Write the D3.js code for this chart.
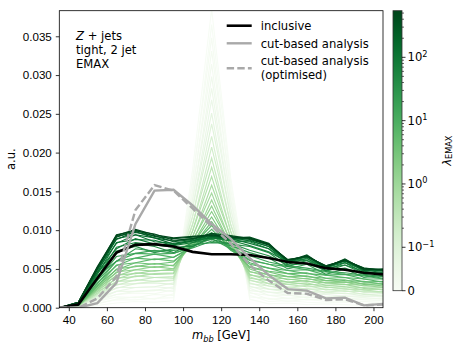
<!DOCTYPE html>
<html>
<head>
<meta charset="utf-8">
<script src="https://cdn.jsdelivr.net/npm/d3@7"></script>
<style>
  body { margin: 0; background: #fff; }
  svg { display: block; font-family: "DejaVu Sans", sans-serif; }
  .axis text { font-size: 11.6px; fill: #000; }
  .axis line { stroke: #000; stroke-width: 0.8; }
  .axis path { display: none; }
</style>
</head>
<body>
<div id="chart"></div>
<script>
// DATA

// bin points along m_bb [GeV]
const mbb = [35, 45, 55, 65, 75, 85, 95, 105, 115, 125, 135, 145, 155, 165, 175, 185, 195, 205];

const inclusive = [0, 0.0004, 0.0038, 0.0071, 0.0081, 0.0082, 0.0079, 0.0072, 0.0069, 0.0069, 0.0068, 0.0064, 0.0059, 0.0057, 0.0051, 0.0049, 0.0045, 0.0043];
const cutBased = [0, 0, 0.0006, 0.0032, 0.0108, 0.0151, 0.0152, 0.0132, 0.0108, 0.0089, 0.0064, 0.0042, 0.0024, 0.0022, 0.0012, 0.0013, 0.0003, 0.0005];
const cutBasedOpt = [0, 0, 0.0012, 0.0040, 0.0126, 0.0158, 0.0151, 0.0128, 0.0105, 0.0083, 0.0055, 0.0035, 0.0019, 0.0018, 0.0010, 0.0011, 0.0003, 0.0004];

// lambda_EMAX of every green curve, light to dark
const lambdas = [0, 0.005, 0.01, 0.015, 0.02, 0.03, 0.04, 0.05, 0.07, 0.09,
  0.12, 0.17, 0.25, 0.35, 0.5, 0.65, 0.8, 1.0,
  1.4, 2, 2.8, 4, 5.5, 7, 9, 12,
  16, 22, 30, 40, 55, 70, 90, 120, 160, 200, 260, 330, 420, 520];

// one row per lambda, same bins as mbb
const greenCurves = [
  [0, 0.0000, 0.0003, 0.0006, 0.0008, 0.0007, 0.0009, 0.0178, 0.0385, 0.0168, 0.0011, 0.0005, 0.0006, 0.0004, 0.0005, 0.0004, 0.0003, 0.0004],
  [0, 0.0001, 0.0006, 0.0010, 0.0010, 0.0012, 0.0013, 0.0161, 0.0365, 0.0162, 0.0016, 0.0008, 0.0009, 0.0007, 0.0006, 0.0008, 0.0005, 0.0006],
  [0, 0.0001, 0.0005, 0.0011, 0.0014, 0.0011, 0.0018, 0.0166, 0.0348, 0.0147, 0.0014, 0.0012, 0.0008, 0.0011, 0.0008, 0.0007, 0.0008, 0.0006],
  [0, 0.0001, 0.0008, 0.0014, 0.0013, 0.0017, 0.0016, 0.0148, 0.0331, 0.0153, 0.0020, 0.0011, 0.0012, 0.0010, 0.0011, 0.0009, 0.0008, 0.0009],
  [0, 0.0001, 0.0008, 0.0017, 0.0019, 0.0018, 0.0023, 0.0152, 0.0314, 0.0137, 0.0019, 0.0016, 0.0012, 0.0014, 0.0011, 0.0012, 0.0010, 0.0009],
  [0, 0.0001, 0.0011, 0.0017, 0.0021, 0.0023, 0.0021, 0.0137, 0.0298, 0.0139, 0.0025, 0.0016, 0.0016, 0.0013, 0.0014, 0.0012, 0.0011, 0.0012],
  [0, 0.0002, 0.0010, 0.0021, 0.0021, 0.0022, 0.0027, 0.0140, 0.0283, 0.0127, 0.0022, 0.0020, 0.0016, 0.0017, 0.0014, 0.0015, 0.0013, 0.0011],
  [0, 0.0001, 0.0013, 0.0021, 0.0026, 0.0027, 0.0025, 0.0128, 0.0268, 0.0128, 0.0028, 0.0020, 0.0019, 0.0017, 0.0017, 0.0015, 0.0015, 0.0014],
  [0, 0.0002, 0.0012, 0.0026, 0.0026, 0.0027, 0.0032, 0.0128, 0.0251, 0.0117, 0.0027, 0.0024, 0.0020, 0.0021, 0.0018, 0.0019, 0.0015, 0.0016],
  [0, 0.0002, 0.0015, 0.0025, 0.0031, 0.0032, 0.0030, 0.0117, 0.0237, 0.0118, 0.0032, 0.0024, 0.0023, 0.0021, 0.0020, 0.0018, 0.0018, 0.0015],
  [0, 0.0002, 0.0015, 0.0030, 0.0031, 0.0034, 0.0036, 0.0118, 0.0221, 0.0107, 0.0031, 0.0028, 0.0023, 0.0025, 0.0020, 0.0022, 0.0017, 0.0018],
  [0, 0.0003, 0.0018, 0.0029, 0.0036, 0.0034, 0.0035, 0.0107, 0.0207, 0.0108, 0.0036, 0.0028, 0.0027, 0.0024, 0.0024, 0.0021, 0.0021, 0.0019],
  [0, 0.0002, 0.0017, 0.0034, 0.0035, 0.0039, 0.0040, 0.0108, 0.0193, 0.0098, 0.0035, 0.0031, 0.0026, 0.0029, 0.0023, 0.0025, 0.0020, 0.0021],
  [0, 0.0002, 0.0021, 0.0033, 0.0041, 0.0039, 0.0038, 0.0099, 0.0181, 0.0099, 0.0040, 0.0031, 0.0030, 0.0027, 0.0027, 0.0024, 0.0023, 0.0020],
  [0, 0.0003, 0.0019, 0.0038, 0.0040, 0.0044, 0.0045, 0.0099, 0.0169, 0.0090, 0.0038, 0.0035, 0.0030, 0.0032, 0.0026, 0.0027, 0.0023, 0.0024],
  [0, 0.0002, 0.0023, 0.0037, 0.0045, 0.0043, 0.0044, 0.0091, 0.0158, 0.0091, 0.0043, 0.0035, 0.0033, 0.0030, 0.0029, 0.0027, 0.0026, 0.0023],
  [0, 0.0003, 0.0021, 0.0042, 0.0044, 0.0048, 0.0048, 0.0092, 0.0148, 0.0084, 0.0042, 0.0039, 0.0033, 0.0035, 0.0029, 0.0030, 0.0025, 0.0026],
  [0, 0.0003, 0.0025, 0.0041, 0.0049, 0.0047, 0.0050, 0.0085, 0.0139, 0.0085, 0.0047, 0.0039, 0.0037, 0.0034, 0.0032, 0.0030, 0.0029, 0.0026],
  [0, 0.0003, 0.0023, 0.0046, 0.0049, 0.0053, 0.0050, 0.0087, 0.0131, 0.0080, 0.0046, 0.0043, 0.0036, 0.0038, 0.0032, 0.0033, 0.0028, 0.0028],
  [0, 0.0003, 0.0027, 0.0045, 0.0054, 0.0052, 0.0055, 0.0082, 0.0124, 0.0081, 0.0050, 0.0042, 0.0040, 0.0037, 0.0035, 0.0033, 0.0031, 0.0028],
  [0, 0.0003, 0.0025, 0.0050, 0.0053, 0.0057, 0.0054, 0.0082, 0.0117, 0.0077, 0.0052, 0.0046, 0.0040, 0.0041, 0.0035, 0.0036, 0.0030, 0.0031],
  [0, 0.0004, 0.0029, 0.0049, 0.0058, 0.0056, 0.0059, 0.0079, 0.0111, 0.0077, 0.0053, 0.0047, 0.0044, 0.0040, 0.0038, 0.0035, 0.0034, 0.0030],
  [0, 0.0003, 0.0028, 0.0055, 0.0058, 0.0063, 0.0060, 0.0080, 0.0106, 0.0075, 0.0056, 0.0051, 0.0044, 0.0045, 0.0038, 0.0039, 0.0033, 0.0034],
  [0, 0.0004, 0.0032, 0.0054, 0.0064, 0.0062, 0.0065, 0.0078, 0.0101, 0.0076, 0.0058, 0.0051, 0.0048, 0.0044, 0.0042, 0.0039, 0.0037, 0.0033],
  [0, 0.0004, 0.0031, 0.0060, 0.0064, 0.0069, 0.0065, 0.0079, 0.0097, 0.0074, 0.0061, 0.0056, 0.0048, 0.0049, 0.0042, 0.0043, 0.0037, 0.0037],
  [0, 0.0004, 0.0035, 0.0060, 0.0070, 0.0069, 0.0070, 0.0078, 0.0093, 0.0077, 0.0062, 0.0056, 0.0053, 0.0049, 0.0046, 0.0043, 0.0041, 0.0037],
  [0, 0.0004, 0.0036, 0.0066, 0.0070, 0.0074, 0.0070, 0.0079, 0.0089, 0.0076, 0.0067, 0.0059, 0.0054, 0.0051, 0.0047, 0.0045, 0.0042, 0.0038],
  [0, 0.0005, 0.0041, 0.0060, 0.0076, 0.0073, 0.0074, 0.0077, 0.0086, 0.0080, 0.0071, 0.0064, 0.0050, 0.0056, 0.0043, 0.0050, 0.0039, 0.0042],
  [0, 0.0004, 0.0037, 0.0073, 0.0079, 0.0071, 0.0076, 0.0081, 0.0084, 0.0083, 0.0074, 0.0067, 0.0055, 0.0057, 0.0048, 0.0051, 0.0043, 0.0040],
  [0, 0.0005, 0.0045, 0.0070, 0.0083, 0.0079, 0.0071, 0.0084, 0.0088, 0.0082, 0.0079, 0.0071, 0.0053, 0.0061, 0.0047, 0.0055, 0.0044, 0.0044],
  [0, 0.0004, 0.0039, 0.0078, 0.0084, 0.0081, 0.0078, 0.0079, 0.0091, 0.0087, 0.0080, 0.0072, 0.0059, 0.0061, 0.0051, 0.0055, 0.0047, 0.0043],
  [0, 0.0006, 0.0046, 0.0076, 0.0089, 0.0082, 0.0081, 0.0086, 0.0090, 0.0086, 0.0085, 0.0076, 0.0056, 0.0064, 0.0048, 0.0058, 0.0045, 0.0046],
  [0, 0.0005, 0.0043, 0.0084, 0.0088, 0.0087, 0.0080, 0.0084, 0.0092, 0.0089, 0.0083, 0.0076, 0.0060, 0.0063, 0.0052, 0.0058, 0.0049, 0.0045],
  [0, 0.0006, 0.0049, 0.0083, 0.0094, 0.0085, 0.0083, 0.0087, 0.0090, 0.0088, 0.0087, 0.0079, 0.0058, 0.0066, 0.0051, 0.0061, 0.0047, 0.0048],
  [0, 0.0006, 0.0046, 0.0089, 0.0094, 0.0090, 0.0082, 0.0086, 0.0094, 0.0091, 0.0086, 0.0079, 0.0061, 0.0065, 0.0053, 0.0060, 0.0050, 0.0047],
  [0, 0.0007, 0.0051, 0.0088, 0.0098, 0.0090, 0.0086, 0.0089, 0.0092, 0.0089, 0.0089, 0.0082, 0.0059, 0.0067, 0.0052, 0.0062, 0.0048, 0.0049],
  [0, 0.0006, 0.0049, 0.0092, 0.0097, 0.0093, 0.0085, 0.0088, 0.0095, 0.0092, 0.0088, 0.0081, 0.0062, 0.0066, 0.0054, 0.0061, 0.0051, 0.0048],
  [0, 0.0007, 0.0052, 0.0091, 0.0100, 0.0092, 0.0089, 0.0091, 0.0093, 0.0090, 0.0091, 0.0083, 0.0060, 0.0068, 0.0052, 0.0063, 0.0049, 0.0050],
  [0, 0.0007, 0.0051, 0.0094, 0.0099, 0.0095, 0.0087, 0.0089, 0.0096, 0.0093, 0.0089, 0.0081, 0.0062, 0.0066, 0.0054, 0.0061, 0.0051, 0.0049],
  [0, 0.0007, 0.0053, 0.0093, 0.0101, 0.0094, 0.0090, 0.0092, 0.0094, 0.0091, 0.0090, 0.0082, 0.0061, 0.0067, 0.0053, 0.0062, 0.0050, 0.0049]
];

const xTicks = [40, 60, 80, 100, 120, 140, 160, 180, 200];
const yTicks = [0, 0.005, 0.010, 0.015, 0.020, 0.025, 0.030, 0.035];
const cbarTicks = [0, 0.1, 1, 10, 100];
const cbarTickExp = [null, "\u22121", "0", "1", "2"];
const lambdaMax = 545;

// LAYOUT
const W = 457, H = 343;
const plot = { left: 59.3, right: 383, top: 10.7, bottom: 307.7 };
const cbar = { left: 393, right: 402, top: 10.7, bottom: 290.7 };

const svg = d3.select("#chart").append("svg")
  .attr("width", W).attr("height", H);

// SCALES
const x = d3.scaleLinear().domain([35, 205]).range([plot.left, plot.right]);
const y = d3.scaleLinear().domain([0, 0.0383]).range([plot.bottom, plot.top]);

// symlog-like colorbar scale: linear below 0.1, log above
const linFrac = 0.686; // height of linear part, in decades
const decadePx = (cbar.bottom - cbar.top) / (linFrac + Math.log10(lambdaMax / 0.1));
const cbLin = d3.scaleLinear().domain([0, 0.1]).range([cbar.bottom, cbar.bottom - linFrac * decadePx]);
const cbLog = d3.scaleLog().domain([0.1, lambdaMax]).range([cbar.bottom - linFrac * decadePx, cbar.top]);
const cbPos = (v) => (v <= 0.1 ? cbLin(v) : cbLog(v));
const cbNorm = d3.scaleLinear().domain([cbar.bottom, cbar.top]).range([0, 1]);
const lambdaColor = (v) => d3.interpolateGreens(cbNorm(cbPos(v)));

// clip for curves
svg.append("clipPath").attr("id", "plotclip")
  .append("rect")
  .attr("x", plot.left).attr("y", plot.top)
  .attr("width", plot.right - plot.left).attr("height", plot.bottom - plot.top);

const line = d3.line()
  .x((d, i) => x(mbb[i]))
  .y((d) => y(d));

const curves = svg.append("g").attr("clip-path", "url(#plotclip)");

curves.selectAll(".green")
  .data(greenCurves)
  .join("path")
  .attr("class", "green")
  .attr("fill", "none")
  .attr("stroke", (d, i) => lambdaColor(lambdas[i]))
  .attr("stroke-width", 1.15)
  .attr("d", line);

curves.append("path").attr("d", line(inclusive))
  .attr("fill", "none").attr("stroke", "#000").attr("stroke-width", 2.6);
curves.append("path").attr("d", line(cutBased))
  .attr("fill", "none").attr("stroke", "#a9a9a9").attr("stroke-width", 2.4);
curves.append("path").attr("d", line(cutBasedOpt))
  .attr("fill", "none").attr("stroke", "#a9a9a9").attr("stroke-width", 2.4)
  .attr("stroke-dasharray", "7.4,3.2");

// AXES
svg.append("g")
  .attr("class", "axis")
  .attr("transform", `translate(0,${plot.bottom})`)
  .call(d3.axisBottom(x).tickValues(xTicks).tickSize(3.5).tickPadding(5).tickSizeOuter(0));

svg.append("g")
  .attr("class", "axis")
  .attr("transform", `translate(${plot.left},0)`)
  .call(d3.axisLeft(y).tickValues(yTicks).tickFormat(d3.format(".3f")).tickSize(3.5).tickPadding(4).tickSizeOuter(0));

svg.append("rect")
  .attr("x", plot.left).attr("y", plot.top)
  .attr("width", plot.right - plot.left).attr("height", plot.bottom - plot.top)
  .attr("fill", "none").attr("stroke", "#000").attr("stroke-width", 0.8);

// axis labels
const xlab = svg.append("text")
  .attr("x", (plot.left + plot.right) / 2).attr("y", 339)
  .attr("text-anchor", "middle").attr("font-size", 11.6);
xlab.append("tspan").attr("font-style", "italic").text("m");
xlab.append("tspan").attr("font-style", "italic").attr("font-size", 8.2).attr("dy", 2.6).text("bb");
xlab.append("tspan").attr("dy", -2.6).text(" [GeV]");

svg.append("text")
  .attr("transform", `translate(15,${(plot.top + plot.bottom) / 2}) rotate(-90)`)
  .attr("text-anchor", "middle").attr("font-size", 11.6)
  .text("a.u.");

// annotation
const note = svg.append("g").attr("font-size", 11.6);
const l1 = note.append("text").attr("x", 76).attr("y", 39.5);
l1.append("tspan").attr("font-style", "italic").text("Z");
l1.append("tspan").text(" + jets");
note.append("text").attr("x", 76).attr("y", 53.5).text("tight, 2 jet");
note.append("text").attr("x", 76).attr("y", 67.5).text("EMAX");

// legend
const legend = svg.append("g").attr("font-size", 11.6);
legend.append("line").attr("x1", 226.7).attr("x2", 251.7).attr("y1", 25.7).attr("y2", 25.7)
  .attr("stroke", "#000").attr("stroke-width", 2.6);
legend.append("text").attr("x", 260.7).attr("y", 29.9).text("inclusive");
legend.append("line").attr("x1", 226.7).attr("x2", 251.7).attr("y1", 43.3).attr("y2", 43.3)
  .attr("stroke", "#a9a9a9").attr("stroke-width", 2.4);
legend.append("text").attr("x", 260.7).attr("y", 47.5).text("cut-based analysis");
legend.append("line").attr("x1", 226.7).attr("x2", 251.7).attr("y1", 68.3).attr("y2", 68.3)
  .attr("stroke", "#a9a9a9").attr("stroke-width", 2.4).attr("stroke-dasharray", "7.4,3.2");
legend.append("text").attr("x", 260.7).attr("y", 65).text("cut-based analysis");
legend.append("text").attr("x", 260.7).attr("y", 78.5).text("(optimised)");

// COLORBAR
const grad = svg.append("defs").append("linearGradient")
  .attr("id", "greens").attr("x1", 0).attr("y1", 1).attr("x2", 0).attr("y2", 0);
grad.selectAll("stop")
  .data(d3.range(0, 1.0001, 0.05))
  .join("stop")
  .attr("offset", (d) => d)
  .attr("stop-color", (d) => d3.interpolateGreens(d));

svg.append("rect")
  .attr("x", cbar.left).attr("y", cbar.top)
  .attr("width", cbar.right - cbar.left).attr("height", cbar.bottom - cbar.top)
  .attr("fill", "url(#greens)").attr("stroke", "#333").attr("stroke-width", 0.8);

// minor ticks
const minor = [];
[0.1, 1, 10, 100].forEach((dec) => {
  for (let k = 2; k <= 9; k++) if (dec * k <= lambdaMax) minor.push(dec * k);
});
svg.append("g").selectAll("line")
  .data(minor)
  .join("line")
  .attr("x1", cbar.right).attr("x2", cbar.right + 2)
  .attr("y1", (d) => cbPos(d)).attr("y2", (d) => cbPos(d))
  .attr("stroke", "#000").attr("stroke-width", 0.6);

const cbTick = svg.append("g").selectAll("g")
  .data(cbarTicks)
  .join("g")
  .attr("transform", (d) => `translate(${cbar.right},${cbPos(d)})`);
cbTick.append("line").attr("x2", 3.5).attr("stroke", "#000").attr("stroke-width", 0.8);
const cbText = cbTick.append("text")
  .attr("x", 5.5).attr("dy", "0.35em").attr("font-size", 11.6);
cbText.each(function (d, i) {
  const t = d3.select(this);
  if (cbarTickExp[i] === null) {
    t.text("0");
  } else {
    t.append("tspan").text("10");
    t.append("tspan").attr("font-size", 8.2).attr("dy", -4.8).text(cbarTickExp[i]);
  }
});

const cblab = svg.append("text")
  .attr("transform", `translate(450.5,${(cbar.top + cbar.bottom) / 2}) rotate(-90)`)
  .attr("text-anchor", "middle").attr("font-size", 11.6);
cblab.append("tspan").attr("font-style", "italic").text("\u03bb");
cblab.append("tspan").attr("font-size", 8.2).attr("dy", 1.5).text("EMAX");
</script>
</body>
</html>
